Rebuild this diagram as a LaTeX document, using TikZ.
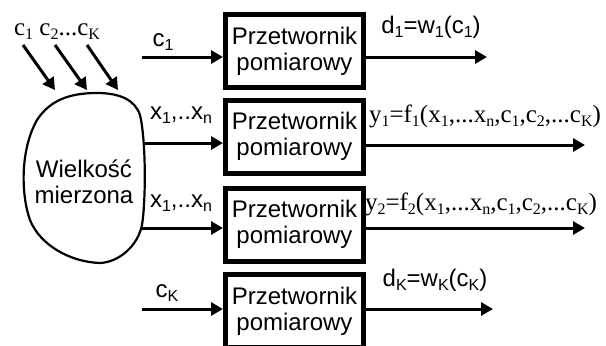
\documentclass[tikz,border=0pt]{standalone}
\usepackage{fontspec}
\setmainfont{Liberation Sans}
\newfontfamily\timesfont{Liberation Serif}
\usetikzlibrary{arrows.meta}
\newcommand{\lo}[1]{\raisebox{-0.35ex}{\fontsize{8}{8}\selectfont #1}}

\begin{document}
\begin{tikzpicture}[
    x=0.5pt,
    y=-0.5pt,
    font=\fontsize{12}{13}\selectfont,
    conv/.style={
        draw,
        line width=2.5pt,
        minimum width=69pt,
        minimum height=36.5pt,
        inner sep=0pt,
        align=center
    },
    flow/.style={
        line width=1.5pt,
        -{Triangle[length=6pt,width=6.5pt]}
    },
    outline/.style={
        line width=1.1pt,
        line join=round
    },
    lab/.style={inner sep=0pt},
    serif/.style={font=\timesfont\fontsize{12.5}{13}\selectfont}
]

\useasboundingbox (0,0) rectangle (606,345);

% -------------------------------------------------
% Measured quantity (blob)
% -------------------------------------------------

\draw[outline]
    (37,120)
    .. controls (50,100) and (70,93)
        .. (97,93)
    .. controls (120,93) and (135,100)
        .. (140,115)
    .. controls (146,140) and (146,200)
        .. (142,225)
    .. controls (138,245) and (120,262)
        .. (100,263)
    .. controls (70,262) and (40,245)
        .. (30,220)
    .. controls (21,195) and (20,150)
        .. cycle;

\node[align=center] (wm) at (84,182) {Wielkość\\mierzona};

% -------------------------------------------------
% Disturbances c_1 ... c_K acting on the blob
% -------------------------------------------------

\node[lab,serif] (cc) at (57,32) {c\lo{1} c\lo{2}...c\lo{K}};

\coordinate (ca) at (23,45);
\coordinate (cb) at (55,45);
\coordinate (cd) at (87,45);
\coordinate (ea) at (55,90);
\coordinate (eb) at (87,90);
\coordinate (ed) at (118,90);

\draw[flow] (ca) -- (ea);
\draw[flow] (cb) -- (eb);
\draw[flow] (cd) -- (ed);

% -------------------------------------------------
% Transducers
% -------------------------------------------------

\node[conv] (b1) at (294.5,51)    {Przetwornik\\pomiarowy};
\node[conv] (b2) at (294.5,136.5) {Przetwornik\\pomiarowy};
\node[conv] (b3) at (294.5,224.5) {Przetwornik\\pomiarowy};
\node[conv] (b4) at (294.5,311)   {Przetwornik\\pomiarowy};

% -------------------------------------------------
% Inputs
% -------------------------------------------------

\coordinate (in1) at (142,57);
\coordinate (in2) at (143,143);
\coordinate (in3) at (142,228);
\coordinate (in4) at (142,309);

\draw[flow] (in1) -- (in1 -| b1.west);
\draw[flow] (in2) -- (in2 -| b2.west);
\draw[flow] (in3) -- (in3 -| b3.west);
\draw[flow] (in4) -- (in4 -| b4.west);

\node[lab] (lc1) at (163,42)  {c\lo{1}};
\node[lab] (lx1) at (181,115) {x\lo{1},..x\lo{n}};
\node[lab] (lx2) at (181,203) {x\lo{1},..x\lo{n}};
\node[lab] (lck) at (167,293) {c\lo{K}};

% -------------------------------------------------
% Outputs
% -------------------------------------------------

\coordinate (out1) at (487,57);
\coordinate (out2) at (585,145);
\coordinate (out3) at (585,228);
\coordinate (out4) at (493,309);

\draw[flow] (b1.east |- out1) -- (out1);
\draw[flow] (b2.east |- out2) -- (out2);
\draw[flow] (b3.east |- out3) -- (out3);
\draw[flow] (b4.east |- out4) -- (out4);

\node[lab] (ld1) at (431,27) {d\lo{1}=w\lo{1}(c\lo{1})};
\node[lab,serif] (ly1) at (485,116)
    {y\lo{1}=f\lo{1}(x\lo{1},...x\lo{n},c\lo{1},c\lo{2},...c\lo{K})};
\node[lab,serif] (ly2) at (481,204)
    {y\lo{2}=f\lo{2}(x\lo{1},...x\lo{n},c\lo{1},c\lo{2},...c\lo{K})};
\node[lab] (ldk) at (435,280) {d\lo{K}=w\lo{K}(c\lo{K})};

\end{tikzpicture}
\end{document}
